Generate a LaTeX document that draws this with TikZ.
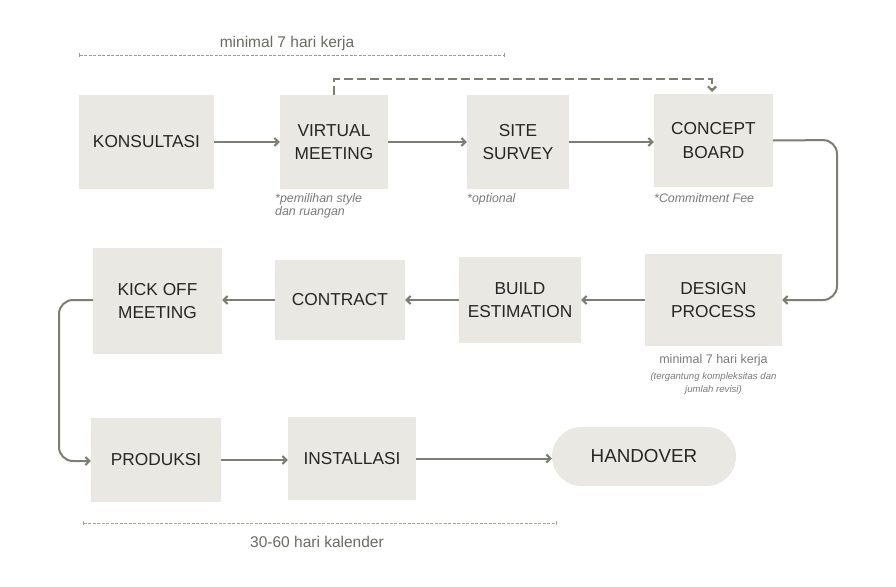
\documentclass[tikz,border=0pt]{standalone}
\usepackage{fontspec}
\setmainfont{Liberation Sans}
\usetikzlibrary{arrows.meta}
\definecolor{boxfill}{HTML}{EAE8E2}
\definecolor{arr}{HTML}{7A7F71}
\definecolor{note}{HTML}{7A7A7A}
\definecolor{dim}{HTML}{9A9A90}
\definecolor{dimb}{HTML}{ABA58E}
\begin{document}
\begin{tikzpicture}[x=1pt,y=-1pt,
  box/.style={fill=boxfill,draw=none,inner sep=0pt,align=center,font=\fontsize{17.3}{23.5}\selectfont,text=black!85},
  conn/.style={draw=arr,line width=2pt,-{Straight Barb[length=4pt,width=8pt]},rounded corners=14pt},
  notetxt/.style={font=\fontsize{12.4}{13.5}\selectfont\itshape,text=note,inner sep=0pt,align=left},
  dimline/.style={draw=#1,line width=0.9pt,dash pattern=on 3pt off 1.5pt,{Bar[width=4pt]}-{Bar[width=4pt]}},
  dimtxt/.style={font=\fontsize{15.5}{17}\selectfont,text=arr!85!black,inner sep=0pt}]
\useasboundingbox (0,0) rectangle (896,586);
\fill[white] (0,0) rectangle (896,586);
% row 1
\node[box,minimum width=135pt,minimum height=94pt] (kons) at (146.5,142) {KONSULTASI};
\node[box,minimum width=108pt,minimum height=94pt] (vm) at (334,142) {VIRTUAL\\MEETING};
\node[box,minimum width=102pt,minimum height=94pt] (site) at (518,142) {SITE\\SURVEY};
\node[box,minimum width=119pt,minimum height=93pt] (cb) at (713.5,140.5) {CONCEPT\\BOARD};
% row 2
\node[box,minimum width=129pt,minimum height=106pt] (kick) at (157.5,301) {KICK OFF\\MEETING};
\node[box,minimum width=130pt,minimum height=80pt] (contract) at (340,300) {CONTRACT};
\node[box,minimum width=122pt,minimum height=86pt] (build) at (520,300) {BUILD\\ESTIMATION};
\node[box,minimum width=137pt,minimum height=92pt] (design) at (713.5,300) {DESIGN\\PROCESS};
% row 3
\node[box,minimum width=130pt,minimum height=84pt] (prod) at (156,460) {PRODUKSI};
\node[box,minimum width=128pt,minimum height=83pt] (inst) at (352,458.5) {INSTALLASI};
\node[box,minimum width=184pt,minimum height=59pt,rounded corners=29.5pt,font=\fontsize{18.8}{22}\selectfont] (hand) at (644,456.5) {HANDOVER};
% connectors
\draw[conn] (kons.east) -- (vm.west);
\draw[conn] (vm.east) -- (site.west |- vm.east);
\draw[conn] (site.east) -- (cb.west |- site.east);
\draw[conn] (cb.east) -- (837,140) -- (837,300) -- (design.east);
\draw[conn] (design.west) -- (build.east);
\draw[conn] (build.west) -- (contract.east);
\draw[conn] (contract.west) -- (kick.east |- contract.west);
\coordinate (kl) at (93,300);
\draw[conn] (kl) -- (59,300) -- (59,461) -- (prod.west |- 0,461);
\draw[conn] (prod.east) -- (inst.west |- prod.east);
\draw[conn] (inst.east) -- (hand.west |- inst.east);
\draw[draw=arr,line width=2.2pt,dash pattern=on 9pt off 4pt,-{Straight Barb[length=4pt,width=8pt]}] (vm.north) -- (334,79) -- (712,79) -- (712,92);
% notes
\node[notetxt,anchor=north west] (n1) at (275,193) {*pemilihan style\\dan ruangan};
\node[notetxt,anchor=north west] (n2) at (467,193) {*optional};
\node[notetxt,anchor=north west] (n3) at (654,193) {*Commitment Fee};
\node[font=\fontsize{12.5}{14}\selectfont,text=note,inner sep=0pt] (n4) at (713.5,360) {minimal 7 hari kerja};
\node[font=\fontsize{9.6}{13}\selectfont\itshape,text=note,inner sep=0pt,align=center,anchor=north] (n5) at (713.5,372.5) {(tergantung kompleksitas dan\\jumlah revisi)};
% dimensions
\coordinate (t1) at (79,55);
\coordinate (t2) at (505,55);
\draw[dimline=dim] (t1) -- (t2);
\node[dimtxt] (tt) at (287,43) {minimal 7 hari kerja};
\coordinate (b1) at (83,523);
\coordinate (b2) at (557,523);
\draw[dimline=dimb] (b1) -- (b2);
\node[dimtxt] (bt) at (317,542) {30-60 hari kalender};
\end{tikzpicture}
\end{document}
